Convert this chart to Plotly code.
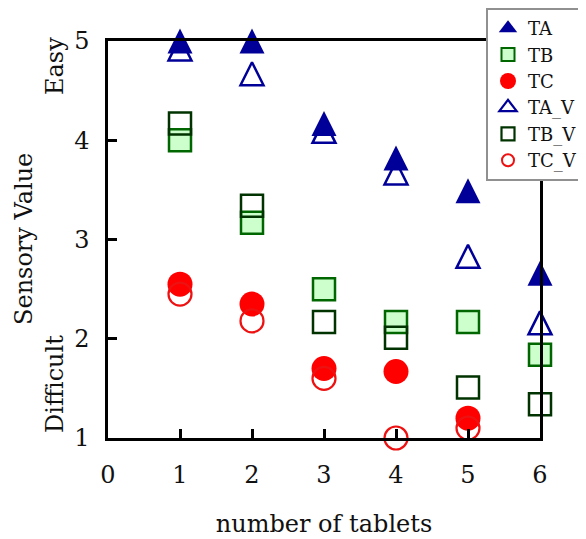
import plotly.graph_objects as go

tablets = [1, 2, 3, 4, 5, 6]
tablets_c = [1, 2, 3, 4, 5]

TA = [5.0, 5.0, 4.17, 3.82, 3.49, 2.66]
TB = [4.0, 3.17, 2.5, 2.17, 2.17, 1.84]
TC = [2.55, 2.35, 1.7, 1.67, 1.2]
TA_V = [4.92, 4.67, 4.09, 3.67, 2.83, 2.16]
TB_V = [4.17, 3.34, 2.17, 2.01, 1.51, 1.34]
TC_V = [2.45, 2.18, 1.6, 1.0, 1.1]

x_ticks = [0, 1, 2, 3, 4, 5, 6]
y_ticks = [1, 2, 3, 4, 5]

FONT = "DejaVu Serif"
NAVY = "#000099"
TXT = "#111111"

# page has an 8px body margin; figure is sized to fit the 586x539 window
W, H = 578, 531
PL, PR, PT, PB = 100, 532, 33, 430   # plot area in figure pixels

TRI = 25
fig = go.Figure()

fig.add_trace(go.Scatter(x=tablets, y=TA, name="TA", legendgroup="TA", showlegend=False,
    mode="markers", cliponaxis=False,
    marker=dict(symbol="arrow-down", angle=180, standoff=TRI/2, size=TRI, color=NAVY,
                line=dict(width=0))))
fig.add_trace(go.Scatter(x=tablets, y=TB, name="TB", legendgroup="TB", showlegend=False,
    mode="markers", cliponaxis=False,
    marker=dict(symbol="square", size=22, color="#CCFFCC",
                line=dict(width=2.5, color="#006600"))))
fig.add_trace(go.Scatter(x=tablets_c, y=TC, name="TC", legendgroup="TC", showlegend=False,
    mode="markers", cliponaxis=False,
    marker=dict(symbol="circle", size=25, color="#FF0000", line=dict(width=0))))
fig.add_trace(go.Scatter(x=tablets, y=TA_V, name="TA_V", legendgroup="TA_V", showlegend=False,
    mode="markers", cliponaxis=False,
    marker=dict(symbol="arrow-down-open", angle=180, standoff=(TRI-2)/2, size=TRI-2,
                color=NAVY, line=dict(width=2.5, color=NAVY))))
fig.add_trace(go.Scatter(x=tablets, y=TB_V, name="TB_V", legendgroup="TB_V", showlegend=False,
    mode="markers", cliponaxis=False,
    marker=dict(symbol="square-open", size=22, color="#003300",
                line=dict(width=2.5, color="#003300"))))
fig.add_trace(go.Scatter(x=tablets_c, y=TC_V, name="TC_V", legendgroup="TC_V", showlegend=False,
    mode="markers", cliponaxis=False,
    marker=dict(symbol="circle-open", size=23, color="#EE1111",
                line=dict(width=2.2, color="#EE1111"))))

legend_markers = [
    ("TA", dict(symbol="triangle-up", size=16, color=NAVY, line=dict(width=0))),
    ("TB", dict(symbol="square", size=13, color="#CCFFCC", line=dict(width=2, color="#006600"))),
    ("TC", dict(symbol="circle", size=16, color="#FF0000", line=dict(width=0))),
    ("TA_V", dict(symbol="triangle-up-open", size=15, color=NAVY, line=dict(width=2.2, color=NAVY))),
    ("TB_V", dict(symbol="square-open", size=13, color="#003300", line=dict(width=2.2, color="#003300"))),
    ("TC_V", dict(symbol="circle-open", size=12, color="#EE1111", line=dict(width=2, color="#EE1111"))),
]
for rank, (nm, mk) in enumerate(legend_markers, start=1):
    fig.add_trace(go.Scatter(x=[None], y=[None], name=nm, legendgroup=nm, legendrank=rank,
                             mode="markers", marker=mk, showlegend=True))

axis_common = dict(showgrid=False, zeroline=False, showline=True, linecolor="black",
                   linewidth=2.5, mirror=True, ticks="inside", ticklen=9, tickwidth=2.5,
                   tickcolor="black", automargin=False,
                   tickfont=dict(family=FONT, size=24, color=TXT))

fig.update_xaxes(range=[0, 6], tickvals=x_ticks, ticktext=[str(v) for v in x_ticks],
                 ticklabelstandoff=13,
                 title=dict(text="number of tablets", standoff=28,
                            font=dict(family=FONT, size=24, color=TXT)),
                 **axis_common)
fig.update_yaxes(range=[1, 5], tickvals=y_ticks, ticktext=[str(v) for v in y_ticks],
                 ticklabelstandoff=11, **axis_common)

def ann(text, xp, yp):
    # xp, yp: target centre in window pixels
    fx, fy = xp - 8, yp - 8
    fig.add_annotation(text=text, xref="paper", yref="paper",
                       x=(fx - PL) / (PR - PL), y=(PB - fy) / (PB - PT),
                       xanchor="center", yanchor="middle", textangle=-90,
                       showarrow=False, font=dict(family=FONT, size=24, color=TXT))

ann("Sensory Value", 24, 239)
ann("Difficult", 55, 384)
ann("Easy", 55, 66)

fig.update_layout(
    width=W, height=H,
    margin=dict(l=PL, r=W - PR, t=PT, b=H - PB, autoexpand=False),
    paper_bgcolor="white", plot_bgcolor="white",
    showlegend=True,
    legend=dict(xref="container", yref="container",
                x=(584 - 8) / W, y=1.0, xanchor="right", yanchor="top",
                bgcolor="white", bordercolor="#909090", borderwidth=2,
                font=dict(family=FONT, size=18, color=TXT),
                itemwidth=30, tracegroupgap=0),
)

fig.write_html("out.html")
